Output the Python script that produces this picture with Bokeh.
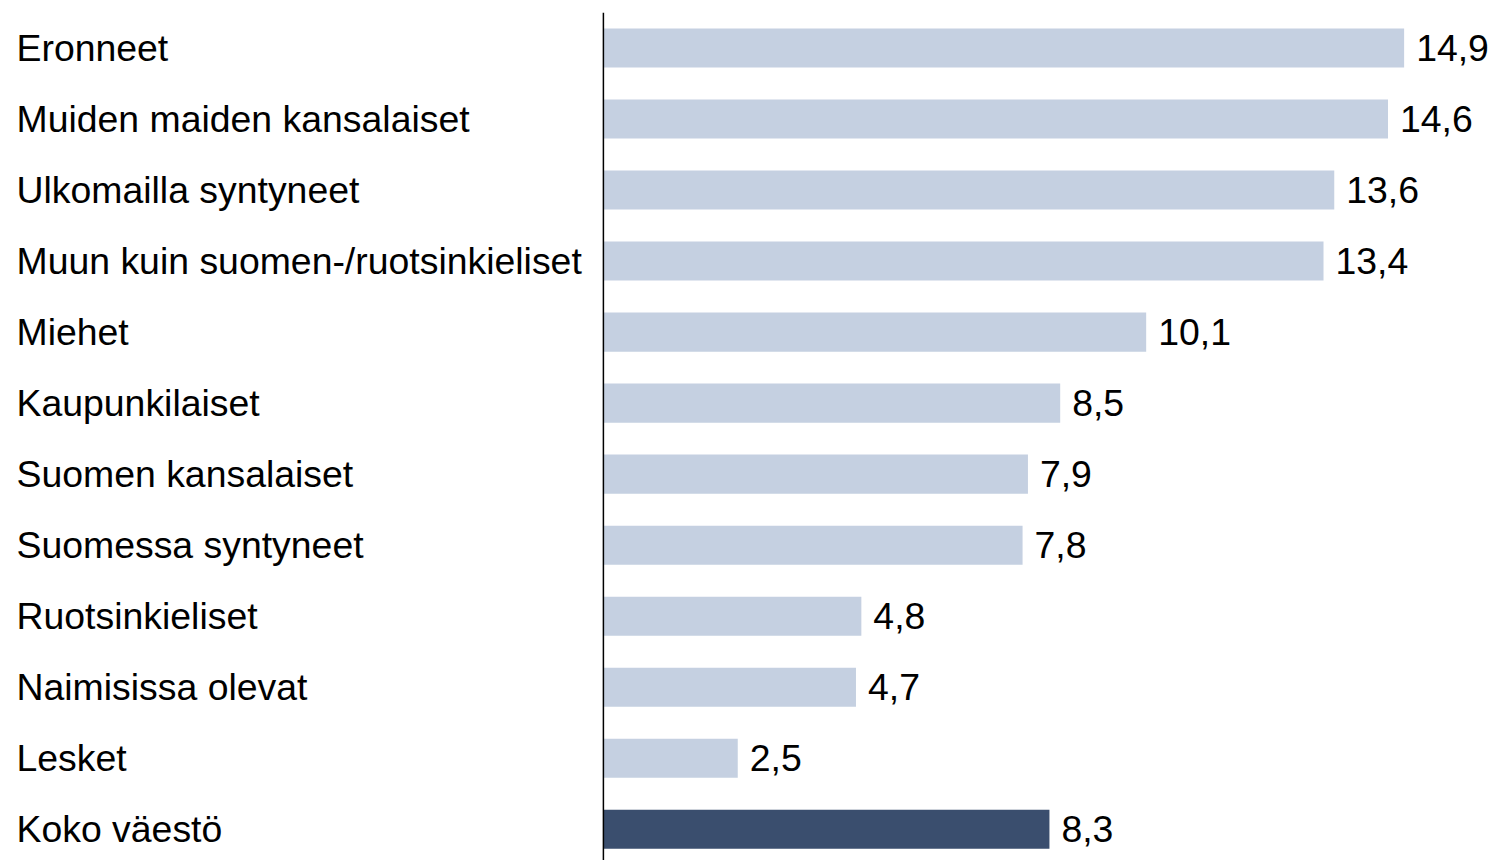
from bokeh.plotting import figure
from bokeh.models import ColumnDataSource, LabelSet, Span, Range1d
from bokeh.core.properties import value
from bokeh.embed import file_html
from bokeh.resources import INLINE

categories = [
    "Eronneet",
    "Muiden maiden kansalaiset",
    "Ulkomailla syntyneet",
    "Muun kuin suomen-/ruotsinkieliset",
    "Miehet",
    "Kaupunkilaiset",
    "Suomen kansalaiset",
    "Suomessa syntyneet",
    "Ruotsinkieliset",
    "Naimisissa olevat",
    "Lesket",
    "Koko väestö",
]
values = [14.9, 14.6, 13.6, 13.4, 10.1, 8.5, 7.9, 7.8, 4.8, 4.7, 2.5, 8.3]
value_labels = ["14,9", "14,6", "13,6", "13,4", "10,1", "8,5", "7,9", "7,8", "4,8", "4,7", "2,5", "8,3"]

LIGHT = "#c5d0e1"
DARK = "#3a4e6e"
colors = [LIGHT] * (len(categories) - 1) + [DARK]

src = ColumnDataSource(dict(
    y=list(range(len(categories))),
    value=values,
    cat=categories,
    vlab=value_labels,
    color=colors,
))

W, H = 1488, 860
p = figure(width=W, height=H, output_backend="svg", toolbar_location=None,
           x_range=Range1d(-11.07, 16.47), y_range=Range1d(11.44, -0.5),
           min_border_left=8, min_border_right=0, min_border_top=12, min_border_bottom=0)
p.outline_line_color = None
p.xaxis.visible = False
p.yaxis.visible = False
p.xgrid.visible = False
p.ygrid.visible = False
p.background_fill_color = "white"
p.border_fill_color = "white"

p.hbar(y="y", left=0, right="value", height=0.55, fill_color="color", line_color=None, source=src)

p.add_layout(Span(location=0, dimension="height", line_color="black", line_width=1.5))

font = value("Liberation Sans")
p.add_layout(LabelSet(x=8, x_units="screen", y="y", text="cat", source=src,
                      text_font=font, text_font_size=value("37.4px"), text_color="black",
                      text_align="left", text_baseline="middle"))
p.add_layout(LabelSet(x="value", y="y", text="vlab", source=src, x_offset=12,
                      text_font=font, text_font_size=value("37.4px"), text_color="black",
                      text_align="left", text_baseline="middle"))

open("out.html", "w").write(file_html(p, INLINE))
